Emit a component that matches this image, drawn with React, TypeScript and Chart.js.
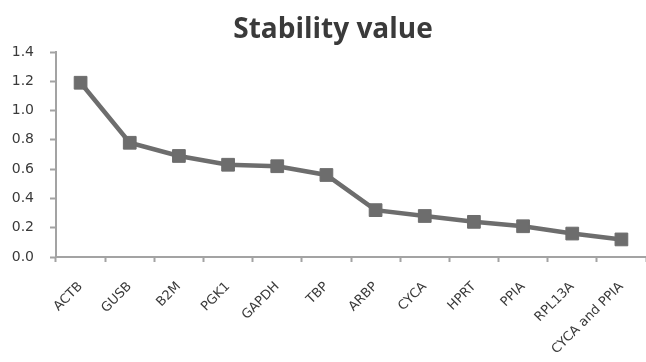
import React, { useEffect, useRef } from "react";
import { Chart, registerables } from "chart.js";

Chart.register(...registerables);

// Reference genes ranked by stability value
const genes = [
  "ACTB",
  "GUSB",
  "B2M",
  "PGK1",
  "GAPDH",
  "TBP",
  "ARBP",
  "CYCA",
  "HPRT",
  "PPIA",
  "RPL13A",
  "CYCA and PPIA",
];
const stability = [1.19, 0.78, 0.69, 0.63, 0.62, 0.56, 0.32, 0.28, 0.24, 0.21, 0.16, 0.12];
const titleText = "Stability value";

const WIDTH = 646;
const HEIGHT = 362;
const lineGrey = "#6d6d6d";
const axisGrey = "#a3a3a3";
const labelColor = "#3a3a3a";

// Title drawn slightly right of the canvas centre, above the plot
const titlePlugin = {
  id: "stabilityTitle",
  afterDraw(chart: Chart) {
    const ctx = chart.ctx;
    ctx.save();
    ctx.font = "bold 28px 'Open Sans'";
    ctx.fillStyle = "#3a3a3a";
    ctx.textAlign = "center";
    ctx.textBaseline = "alphabetic";
    ctx.fillText(titleText, 333, 38);
    ctx.restore();
  },
};

export default function App() {
  const canvasRef = useRef<HTMLCanvasElement | null>(null);

  useEffect(() => {
    if (!canvasRef.current) return;
    const chart = new Chart(canvasRef.current, {
      type: "line",
      data: {
        labels: genes,
        datasets: [
          {
            data: stability,
            borderColor: lineGrey,
            backgroundColor: lineGrey,
            borderWidth: 4.5,
            pointStyle: "rect",
            pointRadius: 9,
            pointBorderWidth: 1,
            pointBorderColor: lineGrey,
            pointBackgroundColor: lineGrey,
            tension: 0,
          },
        ],
      },
      options: {
        responsive: false,
        animation: false,
        layout: {
          autoPadding: false,
          padding: { top: 52, left: 0, right: -1, bottom: 0 },
        },
        plugins: {
          legend: { display: false },
          title: { display: false },
          tooltip: { enabled: false },
        },
        scales: {
          x: {
            type: "category",
            offset: true,
            afterFit(scale: any) {
              scale.height = HEIGHT - 257;
              scale.paddingLeft = 0;
              scale.paddingRight = 0;
            },
            border: { display: true, color: axisGrey, width: 2 },
            grid: {
              display: true,
              drawOnChartArea: false,
              drawTicks: true,
              tickLength: 5,
              tickWidth: 2,
              tickColor: axisGrey,
              offset: true,
            },
            ticks: {
              autoSkip: false,
              maxRotation: 45,
              minRotation: 45,
              padding: 17,
              color: labelColor,
              font: { family: "'DejaVu Sans'", size: 13 },
            },
          },
          y: {
            min: 0,
            max: 1.4,
            afterFit(scale: any) {
              scale.width = 56;
              scale.paddingTop = 0;
              scale.paddingBottom = 0;
            },
            border: { display: true, color: axisGrey, width: 2 },
            grid: {
              display: true,
              drawOnChartArea: false,
              drawTicks: true,
              tickLength: 6,
              tickWidth: 2,
              tickColor: axisGrey,
            },
            ticks: {
              stepSize: 0.2,
              padding: 16,
              color: labelColor,
              font: { family: "'DejaVu Sans'", size: 14 },
              callback: (v: any) => Number(v).toFixed(1),
            },
          },
        },
      },
      plugins: [titlePlugin],
    });
    return () => chart.destroy();
  }, []);

  return (
    <div
      style={{
        position: "fixed",
        left: 0,
        top: 0,
        width: WIDTH,
        height: HEIGHT,
        background: "#ffffff",
      }}
    >
      <canvas
        ref={canvasRef}
        width={WIDTH}
        height={HEIGHT}
        style={{ display: "block", width: WIDTH, height: HEIGHT }}
      />
    </div>
  );
}
